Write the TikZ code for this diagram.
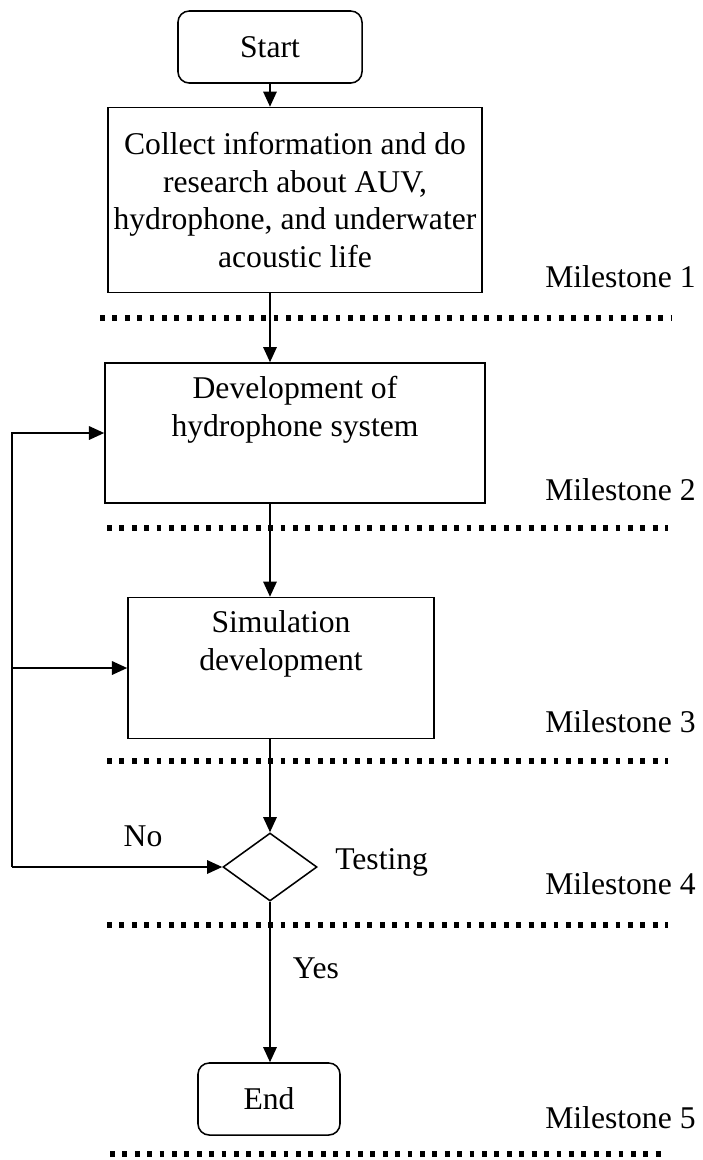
\documentclass[tikz,border=0pt]{standalone}
\usepackage{fontspec}
\setmainfont{Liberation Serif}
\usepackage{tikz}
\usetikzlibrary{shapes.geometric,arrows.meta}
\tikzstyle{term}=[draw, rounded corners=8pt, line width=1.1pt, minimum height=1.8cm]
\tikzstyle{proc}=[draw, line width=1.1pt, align=center]
\tikzstyle{inlabel}=[anchor=north, align=center, yshift=-0.22cm]
\tikzstyle{decision}=[diamond, draw, line width=1.1pt, inner sep=0pt, minimum width=2.35cm, minimum height=1.7cm]
\tikzstyle{dedge}=[line width=1pt, -{Triangle[length=0.38cm,width=0.34cm]}]
\tikzstyle{divider}=[line width=0.13cm, dash pattern=on 0.12cm off 0.19cm]
\tikzstyle{mstone}=[anchor=west, inner sep=0pt]

\begin{document}
\begin{tikzpicture}[x=0.025cm, y=-0.025cm, font=\fontsize{22.5}{27}\selectfont]
	\useasboundingbox (0,0) rectangle (703,1160);

	\node[term, minimum width=4.6cm] (start) at (270,47) {Start};
	\node[proc, minimum width=9.35cm, minimum height=4.625cm] (collect) at (295,200)
		{Collect information and do\\research about AUV,\\hydrophone, and underwater\\acoustic life};
	\node[proc, minimum width=9.5cm, minimum height=3.5cm,
		label={[inlabel]north:Development of\\hydrophone system}] (dev) at (295,433) {};
	\node[proc, minimum width=7.65cm, minimum height=3.525cm,
		label={[inlabel]north:Simulation\\development}] (sim) at (281,668) {};
	\node[decision] (test) at (270,867) {};
	\node[term, minimum width=3.55cm] (end) at (269,1099) {End};

	\node[mstone] (m1) at (545,277) {Milestone 1};
	\node[mstone] (m2) at (545,490) {Milestone 2};
	\node[mstone] (m3) at (545,722) {Milestone 3};
	\node[mstone] (m4) at (545,884) {Milestone 4};
	\node[mstone] (m5) at (545,1118) {Milestone 5};

	\node[mstone] (testing) at (335,862) {Testing};
	\node (no) at (143,836) {No};
	\node (yes) at (316,968) {Yes};

	% milestone dividers
	\draw[divider] (100,318) -- (672,318);
	\draw[divider] (107,528) -- (668,528);
	\draw[divider] (107,761) -- (668,761);
	\draw[divider] (107,925) -- (668,925);
	\draw[divider] (110,1154) -- (668,1154);

	% main flow
	\draw[dedge] (start) -- (start |- collect.north);
	\draw[dedge] (collect.south -| start) -- (dev.north -| start);
	\draw[dedge] (dev.south -| start) -- (sim.north -| start);
	\draw[dedge] (sim.south -| start) -- (test.north);
	\draw[dedge] (test.south) -- (end.north -| test);

	% feedback
	\coordinate (loopx) at (12,0);
	\draw[dedge] (test.west -| loopx) -- (dev.west -| loopx) -- (dev.west);
	\draw[dedge] (sim.west -| loopx) -- (sim.west);
	\draw[dedge] (test.west -| loopx) -- (test.west);

\end{tikzpicture}
\end{document}
